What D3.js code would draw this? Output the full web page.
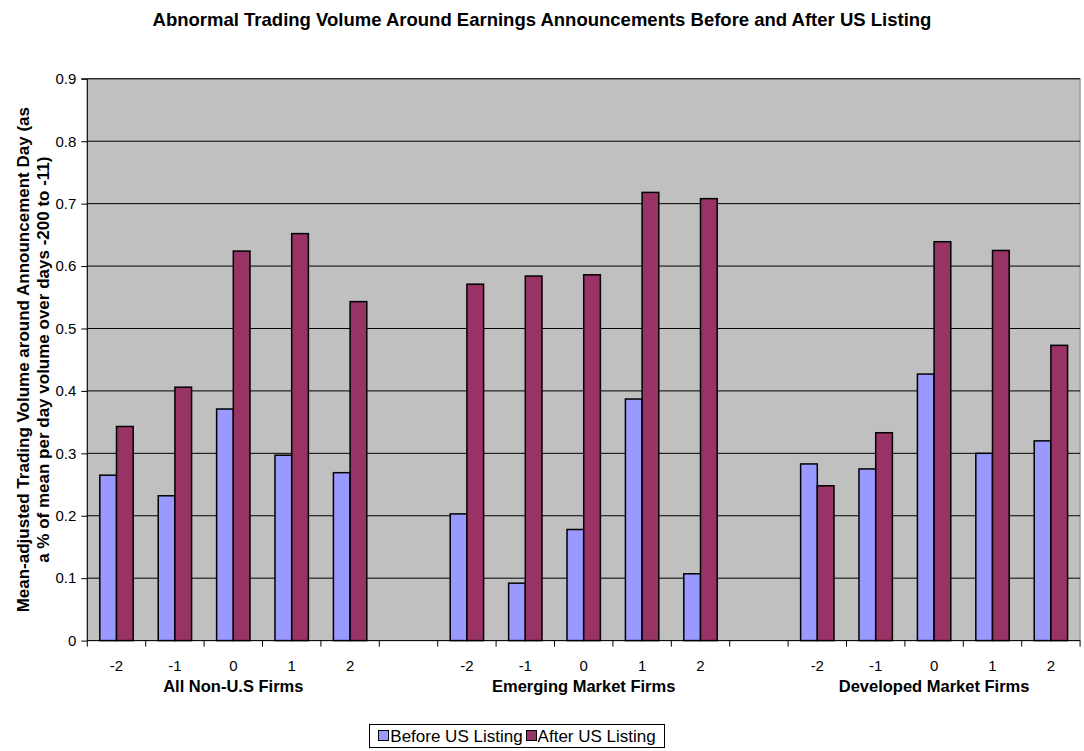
<!DOCTYPE html>
<html><head><meta charset="utf-8">
<script src="https://cdn.jsdelivr.net/npm/d3@7"></script>
<style>body{margin:0;background:#fff;}svg{display:block;font-family:Arial,"Liberation Sans",sans-serif;}</style>
</head><body>
<svg id="c" width="1084" height="751"></svg>
<script>
const groups = ["All Non-U.S Firms", "Emerging Market Firms", "Developed Market Firms"];
const days = ["-2", "-1", "0", "1", "2"];
const seriesNames = ["Before US Listing", "After US Listing"];
const before = [0.265, 0.232, 0.371, 0.297, 0.269, 0.203, 0.092, 0.178, 0.387, 0.107, 0.283, 0.275, 0.427, 0.300, 0.320];
const after  = [0.343, 0.406, 0.624, 0.652, 0.543, 0.571, 0.584, 0.586, 0.718, 0.708, 0.248, 0.333, 0.639, 0.625, 0.473];
const yTicks = [0, 0.1, 0.2, 0.3, 0.4, 0.5, 0.6, 0.7, 0.8, 0.9];
const colors = ["#9999FF", "#993366"];

const svg = d3.select("#c");
const L = 87.3, R = 1080.1, T = 78.8, B = 640.6;

const slots = [];
groups.forEach((g, gi) => {
  days.forEach((d, di) => slots.push({key: gi + "_" + di, day: d, group: g, idx: gi * 5 + di}));
  if (gi < groups.length - 1) slots.push({key: "blank" + gi, blank: true});
});
const x = d3.scaleBand().domain(slots.map(s => s.key)).range([L, R]).paddingInner(0).paddingOuter(0);
const inner = d3.scaleBand().domain([0, 1]).range([0, x.bandwidth()]).paddingInner(0).paddingOuter(0.75);
const y = d3.scaleLinear().domain([0, 0.9]).range([B, T]);

svg.append("rect").attr("x", L).attr("y", T).attr("width", R - L).attr("height", B - T)
  .attr("fill", "#C0C0C0").attr("stroke", "#808080").attr("stroke-width", 1);

svg.append("g").selectAll("line").data(yTicks.slice(1)).join("line")
  .attr("x1", L).attr("x2", R).attr("y1", d => y(d)).attr("y2", d => y(d))
  .attr("stroke", "#000").attr("stroke-width", 1);

const data = slots.filter(s => !s.blank).flatMap(s => [
  {slot: s.key, si: 0, v: before[s.idx]},
  {slot: s.key, si: 1, v: after[s.idx]}
]);
svg.append("g").selectAll("rect").data(data).join("rect")
  .attr("x", d => x(d.slot) + inner(d.si))
  .attr("width", inner.bandwidth())
  .attr("y", d => y(d.v))
  .attr("height", d => y(0) - y(d.v))
  .attr("fill", d => colors[d.si])
  .attr("stroke", "#000").attr("stroke-width", 1.5);

const yAxis = d3.axisLeft(y).tickValues(yTicks).tickSize(6).tickPadding(5)
  .tickFormat(d => d === 0 ? "0" : d3.format(".1f")(d));
const yg = svg.append("g").attr("transform", `translate(${L},0)`).call(yAxis);
yg.select(".domain").attr("stroke", "#000").attr("d", `M-6,${T}H0V${B}`);
yg.selectAll(".tick line").attr("stroke", "#000");
yg.selectAll("text").attr("font-size", 15).attr("fill", "#000").attr("font-family", "Arial, 'Liberation Sans', sans-serif");

svg.append("line").attr("x1", L).attr("x2", R).attr("y1", B).attr("y2", B).attr("stroke", "#000");
const bounds = slots.map(s => x(s.key)).concat([R]);
svg.append("g").selectAll("line").data(bounds).join("line")
  .attr("x1", d => d).attr("x2", d => d).attr("y1", B).attr("y2", B + 6).attr("stroke", "#000");

svg.append("g").selectAll("text").data(slots.filter(s => !s.blank)).join("text")
  .attr("x", s => x(s.key) + x.bandwidth() / 2).attr("y", 671)
  .attr("text-anchor", "middle").attr("font-size", 15).text(s => s.day);

svg.append("g").selectAll("text").data(groups).join("text")
  .attr("x", (g, gi) => x(gi + "_2") + x.bandwidth() / 2).attr("y", 692)
  .attr("text-anchor", "middle").attr("font-size", 16.5).attr("font-weight", "bold").text(g => g);

svg.append("text").attr("x", 542).attr("y", 26).attr("text-anchor", "middle")
  .attr("font-size", 18.5).attr("font-weight", "bold")
  .text("Abnormal Trading Volume Around Earnings Announcements Before and After US Listing");

const yt = svg.append("text").attr("transform", `translate(0,${(T + B) / 2}) rotate(-90)`)
  .attr("text-anchor", "middle").attr("font-size", 17).attr("font-weight", "bold");
yt.append("tspan").attr("x", 0).attr("y", 28.7).text("Mean-adjusted Trading Volume around Announcement Day (as");
yt.append("tspan").attr("x", 0).attr("y", 49).text("a % of mean per day volume over days -200 to -11)");

// legend
const boxX = 369.5, boxW = 295, boxY = 724.5, boxH = 23;
const lg = svg.append("g");
lg.append("rect").attr("x", boxX).attr("y", boxY).attr("width", boxW).attr("height", boxH)
  .attr("fill", "#fff").attr("stroke", "#000");
const items = lg.selectAll("g").data(seriesNames).join("g");
items.append("rect").attr("y", boxY + 6).attr("width", 10).attr("height", 10)
  .attr("fill", (d, i) => colors[i]).attr("stroke", "#000");
const texts = items.append("text").attr("y", boxY + 17).attr("font-size", 17).text(d => d);
const widths = texts.nodes().map(n => n.getComputedTextLength());
const total = widths.reduce((a, b) => a + b, 0) + 2 * 12 + 3;
let cx = boxX + (boxW - total) / 2;
items.each(function(d, i) {
  const g = d3.select(this);
  g.select("rect").attr("x", Math.round(cx) + 0.5);
  g.select("text").attr("x", cx + 12);
  cx += 12 + widths[i] + 3;
});
</script>
</body></html>
